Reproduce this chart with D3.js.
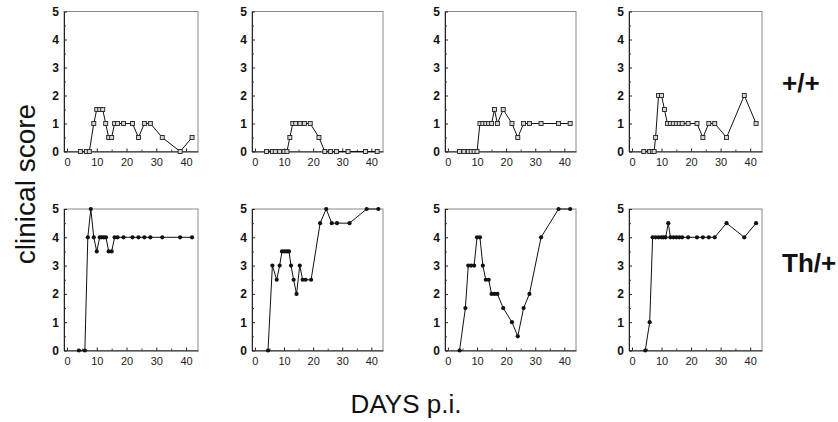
<!DOCTYPE html>
<html>
<head>
<meta charset="utf-8">
<script src="https://cdn.jsdelivr.net/npm/d3@7"></script>
<style>
  body { margin: 0; background: #fff; }
  text { font-family: "Liberation Sans", Arial, Helvetica, sans-serif; }
</style>
</head>
<body>
<svg id="chart" width="838" height="422"></svg>
<script>
// clinical score per mouse
// +/+ mice (top row)
const wt1Days  = [4.5, 6.5, 7.5, 9, 10, 11, 12, 13, 14, 15, 16, 17, 19, 22, 24, 26, 28, 32, 38, 42];
const wt1Score = [0, 0, 0, 1, 1.5, 1.5, 1.5, 1, 0.5, 0.5, 1, 1, 1, 1, 0.5, 1, 1, 0.5, 0, 0.5];
const wt2Days  = [4, 6, 7, 8.5, 10, 11, 12, 13, 14, 15.5, 17, 19, 22, 24, 26, 28, 32, 38, 42];
const wt2Score = [0, 0, 0, 0, 0, 0, 0.5, 1, 1, 1, 1, 1, 0.5, 0, 0, 0, 0, 0, 0];
const wt3Days  = [4, 5.5, 7, 8, 9, 10, 11, 12, 13, 14, 15, 16, 17, 19, 22, 24, 26, 28, 32, 38, 42];
const wt3Score = [0, 0, 0, 0, 0, 0, 1, 1, 1, 1, 1, 1.5, 1, 1.5, 1, 0.5, 1, 1, 1, 1, 1];
const wt4Days  = [4, 6, 7, 7.5, 8, 9, 10, 11, 12, 13, 14, 15, 16, 17, 19, 22, 24, 26, 28, 32, 38, 42];
const wt4Score = [0, 0, 0, 0, 0.5, 2, 2, 1.5, 1, 1, 1, 1, 1, 1, 1, 1, 0.5, 1, 1, 0.5, 2, 1];

// Th/+ mice (bottom row)
const th1Days  = [4, 6, 7, 8, 9, 10, 11, 11.7, 12.4, 13.1, 14, 15, 16, 17, 19, 22, 24, 26, 28, 32, 38, 42];
const th1Score = [0, 0, 4, 5, 4, 3.5, 4, 4, 4, 4, 3.5, 3.5, 4, 4, 4, 4, 4, 4, 4, 4, 4, 4];
const th2Days  = [4.5, 6, 7.5, 8.5, 9.3, 10.2, 11, 11.7, 12.4, 13.3, 14.3, 15.4, 16.4, 17.4, 19.3, 22.4, 24.5, 26.4, 28.2, 32.5, 38.4, 42.4];
const th2Score = [0, 3, 2.5, 3, 3.5, 3.5, 3.5, 3.5, 3, 2.5, 2, 3, 2.5, 2.5, 2.5, 4.5, 5, 4.5, 4.5, 4.5, 5, 5];
const th3Days  = [4, 6, 7, 8, 9, 10, 11, 12, 13, 14, 15, 16, 17, 19, 22, 24, 26, 28, 32, 38, 42];
const th3Score = [0, 1.5, 3, 3, 3, 4, 4, 3, 2.5, 2.5, 2, 2, 2, 1.5, 1, 0.5, 1.5, 2, 4, 5, 5];
const th4Days  = [4.5, 6, 7, 8, 9, 10, 10.7, 11.4, 12.3, 13, 14, 15, 16, 17, 19, 22, 24, 26, 28, 32, 38, 42];
const th4Score = [0, 1, 4, 4, 4, 4, 4, 4, 4.5, 4, 4, 4, 4, 4, 4, 4, 4, 4, 4, 4.5, 4, 4.5];

const yTicks = [0, 1, 2, 3, 4, 5];
const xTicks = [0, 10, 20, 30, 40];
const rowLabels = ["+/+", "Th/+"];

// layout (pixels)
const colLeft  = [64, 252, 445, 629];
const colWidth = [134, 131, 131, 133];
const rowTop   = [11.5, 209];
const rowHeight = [140, 141.5];

const svg = d3.select("#chart");

function drawPanel(days, scores, col, row, marker) {
    const w = colWidth[col], h = rowHeight[row];
    const g = svg.append("g")
        .attr("transform", "translate(" + colLeft[col] + "," + rowTop[row] + ")");

    const x = d3.scaleLinear().domain([-1, 44]).range([0, w]);
    const y = d3.scaleLinear().domain([0, 5]).range([h, 0]);

    // frame (top + right are lighter in the original)
    g.append("rect")
        .attr("width", w).attr("height", h)
        .attr("fill", "none").attr("stroke", "#8a8a8a").attr("stroke-width", 1);

    // minor ticks
    g.append("g").call(d3.axisLeft(y).tickValues(d3.range(0.5, 5, 1)).tickSize(-2).tickFormat(""))
        .call(a => a.select(".domain").remove())
        .selectAll("line").attr("stroke", "#444");
    g.append("g").attr("transform", "translate(0," + h + ")")
        .call(d3.axisBottom(x).tickValues([5, 15, 25, 35]).tickSize(-2).tickFormat(""))
        .call(a => a.select(".domain").remove())
        .selectAll("line").attr("stroke", "#444");

    const yAxis = g.append("g")
        .call(d3.axisLeft(y).tickValues(yTicks).tickFormat(d3.format("d"))
            .tickSize(-3).tickSizeOuter(0).tickPadding(5));
    yAxis.select(".domain").attr("stroke", "#222");
    yAxis.selectAll("line").attr("stroke", "#222");
    yAxis.selectAll("text").attr("font-size", 12).attr("font-weight", "bold").attr("fill", "#111")
        .attr("font-family", "'Liberation Sans', Arial, sans-serif");

    const xAxis = g.append("g").attr("transform", "translate(0," + h + ")")
        .call(d3.axisBottom(x).tickValues(xTicks).tickFormat(d3.format("d"))
            .tickSize(-3).tickSizeOuter(0).tickPadding(7));
    xAxis.select(".domain").attr("stroke", "#222");
    xAxis.selectAll("line").attr("stroke", "#222");
    xAxis.selectAll("text").attr("font-size", 11).attr("fill", "#222")
        .attr("font-family", "'Liberation Sans', Arial, sans-serif");

    const pts = days.map((d, i) => ({day: d, score: scores[i]}));

    g.append("path")
        .datum(pts)
        .attr("fill", "none")
        .attr("stroke", "#111")
        .attr("stroke-width", 1)
        .attr("d", d3.line().x(d => x(d.day)).y(d => y(d.score)));

    if (marker === "square") {
        const s = 4;
        g.selectAll("rect.pt").data(pts).enter().append("rect")
            .attr("class", "pt")
            .attr("x", d => x(d.day) - s / 2).attr("y", d => y(d.score) - s / 2)
            .attr("width", s).attr("height", s)
            .attr("fill", "#d6d6d6").attr("stroke", "#222").attr("stroke-width", 0.9);
    } else {
        g.selectAll("circle.pt").data(pts).enter().append("circle")
            .attr("class", "pt")
            .attr("cx", d => x(d.day)).attr("cy", d => y(d.score))
            .attr("r", 2.1).attr("fill", "#111");
    }
}

const wtSeries = [[wt1Days, wt1Score], [wt2Days, wt2Score], [wt3Days, wt3Score], [wt4Days, wt4Score]];
const thSeries = [[th1Days, th1Score], [th2Days, th2Score], [th3Days, th3Score], [th4Days, th4Score]];

wtSeries.forEach((s, i) => drawPanel(s[0], s[1], i, 0, "square"));
thSeries.forEach((s, i) => drawPanel(s[0], s[1], i, 1, "circle"));

// genotype labels on the right
svg.selectAll("text.row").data(rowLabels).enter().append("text")
    .attr("class", "row")
    .attr("x", 782)
    .attr("y", (d, i) => [92, 272][i])
    .attr("font-size", 26).attr("font-weight", "bold").attr("fill", "#111")
    .text(d => d);

// axis titles
svg.append("text")
    .attr("transform", "translate(35,184) rotate(-90)")
    .attr("text-anchor", "middle")
    .attr("font-size", 28).attr("fill", "#111")
    .text("clinical score");

svg.append("text")
    .attr("x", 406).attr("y", 413)
    .attr("text-anchor", "middle")
    .attr("font-size", 26).attr("fill", "#111")
    .text("DAYS p.i.");
</script>
</body>
</html>
